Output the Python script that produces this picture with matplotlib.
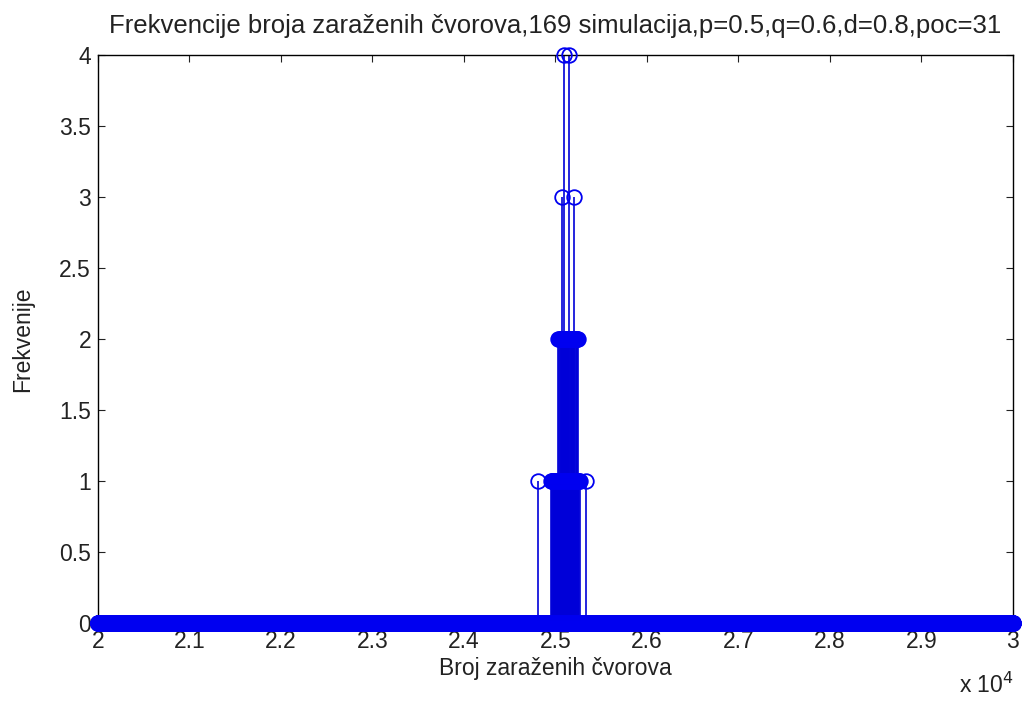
import numpy as np
import matplotlib.pyplot as plt
from matplotlib.ticker import FuncFormatter, MultipleLocator

plt.rcParams['font.family'] = ['Liberation Sans', 'DejaVu Sans']

# broj zarazenih cvorova po simulaciji, grupirano po frekvenciji
x_min, x_max = 20000, 30000
frek4 = [25092, 25150]
frek3 = [25068, 25200]
frek2 = [25028, 25037, 25049, 25056, 25061, 25067, 25078, 25083, 25089, 25101,
         25107, 25113, 25118, 25124, 25129, 25133, 25138, 25142, 25147, 25161,
         25166, 25172, 25178, 25183, 25189, 25194, 25208, 25215, 25223, 25231,
         25239, 25246]
frek1 = [24814, 24952, 24961, 24967, 24975, 24979, 24983, 24987, 24990, 24994,
         24998, 25001, 25004, 25007, 25010, 25013, 25015, 25019, 25021, 25023,
         25026, 25030, 25032, 25034, 25039, 25041, 25043, 25045, 25047, 25052,
         25054, 25058, 25063, 25064, 25069, 25070, 25074, 25075, 25080, 25081,
         25085, 25086, 25091, 25093, 25094, 25099, 25103, 25104, 25109, 25110,
         25115, 25116, 25120, 25121, 25126, 25127, 25131, 25135, 25136, 25140,
         25144, 25145, 25149, 25151, 25157, 25159, 25163, 25165, 25169, 25171,
         25175, 25177, 25181, 25185, 25186, 25191, 25192, 25197, 25199, 25204,
         25206, 25211, 25213, 25219, 25227, 25235, 25243, 25251, 25258, 25264,
         25330]

x = np.arange(x_min, x_max + 1)
y = np.zeros(len(x))
for f, lista in [(1, frek1), (2, frek2), (3, frek3), (4, frek4)]:
    np.add.at(y, np.array(lista) - x_min, f)

fig = plt.figure(figsize=(10.24, 7.06), dpi=100)
ax = fig.add_axes([0.0957, 0.1176, 0.8935, 0.8044])

plava = '#0000f0'
markeri, stabljike, baza = ax.stem(x, y, basefmt=' ')
plt.setp(stabljike, color='#0000d8', linewidth=1.2)
plt.setp(markeri, color=plava, marker='o', markersize=10.5, markerfacecolor='none',
         markeredgewidth=1.3, clip_on=False, zorder=3)

ax.set_xlim(x_min, x_max)
ax.set_ylim(0, 4)
ax.xaxis.set_major_locator(MultipleLocator(1000))
ax.yaxis.set_major_locator(MultipleLocator(0.5))
ax.xaxis.set_major_formatter(FuncFormatter(lambda v, p: '%g' % (v / 1e4)))
ax.yaxis.set_major_formatter(FuncFormatter(lambda v, p: '%g' % v))
ax.tick_params(direction='in', top=True, right=True, labelsize=16.5, length=5, pad=5,
               colors='#222222')
for s in ax.spines.values():
    s.set_linewidth(1.0)

ax.set_title('Frekvencije broja zaraženih čvorova,169 simulacija,p=0.5,q=0.6,d=0.8,poc=31',
             fontsize=18.5, pad=16, color='#222222')
ax.set_xlabel('Broj zaraženih čvorova', fontsize=16.5, labelpad=3, color='#222222')
ax.set_ylabel('Frekvenije', fontsize=16.5, labelpad=18, color='#222222')
fig.text(0.99, 0.012, r'x 10$^4$', fontsize=16.5, ha='right', va='bottom', color='#222222')

fig.savefig('out.png')
